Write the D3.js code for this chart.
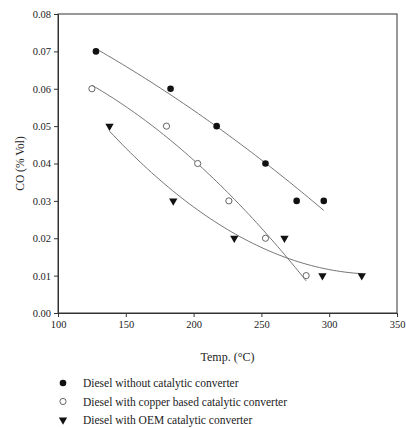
<!DOCTYPE html>
<html>
<head>
<meta charset="utf-8">
<script src="https://cdn.jsdelivr.net/npm/d3@7"></script>
<style>
  body { margin: 0; background: #fff; }
  text { font-family: "Liberation Serif", "Times New Roman", serif; fill: #222; }
</style>
</head>
<body>
<div id="chart"></div>
<script>
// data
const temp_none = [128, 183, 217, 253, 276, 296];
const co_none = [0.07, 0.06, 0.05, 0.04, 0.03, 0.03];

const temp_copper = [125, 180, 203, 226, 253, 283];
const co_copper = [0.06, 0.05, 0.04, 0.03, 0.02, 0.01];

const temp_oem = [138, 185, 230, 267, 295, 324];
const co_oem = [0.05, 0.03, 0.02, 0.02, 0.01, 0.01];

const x_ticks = [100, 150, 200, 250, 300, 350];
const y_ticks = [0, 0.01, 0.02, 0.03, 0.04, 0.05, 0.06, 0.07, 0.08];

const series_names = [
  "Diesel without catalytic converter"
  , "Diesel with copper based catalytic converter"
  , "Diesel with OEM catalytic converter"
];

const width = 406;
const height = 428;
const margin = { left: 58, top: 14, right: 9, bottom: 115 };

const svg = d3.select("#chart")
  .append("svg")
  .attr("width", width)
  .attr("height", height);

const x = d3.scaleLinear().domain([100, 350]).range([margin.left, width - margin.right]);
const y = d3.scaleLinear().domain([0, 0.08]).range([height - margin.bottom, margin.top]);

// quadratic least squares, like the regression lines in the figure
const quad_fit = (xs, ys) => {
  const n = xs.length;
  let s = [0, 0, 0, 0, 0], t = [0, 0, 0];
  for (let i = 0; i < n; ++i) {
    for (let k = 0; k < 5; ++k) s[k] += Math.pow(xs[i], k);
    for (let k = 0; k < 3; ++k) t[k] += ys[i] * Math.pow(xs[i], k);
  }
  const m = [[s[0], s[1], s[2], t[0]], [s[1], s[2], s[3], t[1]], [s[2], s[3], s[4], t[2]]];
  for (let c = 0; c < 3; ++c) {
    for (let r = c + 1; r < 3; ++r) {
      const f = m[r][c] / m[c][c];
      for (let k = c; k < 4; ++k) m[r][k] -= f * m[c][k];
    }
  }
  const b = [0, 0, 0];
  for (let r = 2; r >= 0; --r) {
    let v = m[r][3];
    for (let k = r + 1; k < 3; ++k) v -= m[r][k] * b[k];
    b[r] = v / m[r][r];
  }
  return (v) => b[0] + b[1] * v + b[2] * v * v;
}

const series = [
  { xs: temp_none, ys: co_none, kind: "filled" }
  , { xs: temp_copper, ys: co_copper, kind: "open" }
  , { xs: temp_oem, ys: co_oem, kind: "tri" }
];

// frame
svg.append("rect")
  .attr("x", x(100))
  .attr("y", y(0.08))
  .attr("width", x(350) - x(100))
  .attr("height", y(0) - y(0.08))
  .attr("fill", "none")
  .attr("stroke", "#333")
  .attr("stroke-width", 1);

// axes
const xaxis = svg.append("g")
  .attr("transform", `translate(0,${y(0)})`)
  .call(d3.axisBottom(x).tickValues(x_ticks).tickSize(4).tickPadding(4).tickFormat(d3.format("d")));

const yaxis = svg.append("g")
  .attr("transform", `translate(${x(100)},0)`)
  .call(d3.axisLeft(y).tickValues(y_ticks).tickSize(4).tickPadding(3).tickFormat(d3.format(".2f")));

[xaxis, yaxis].forEach((a) => {
  a.select(".domain").attr("stroke", "#333");
  a.selectAll(".tick line").attr("stroke", "#333");
  a.selectAll(".tick text")
    .attr("font-size", 10.5)
    .attr("font-family", "Liberation Serif, serif")
    .attr("fill", "#222");
});

// titles
svg.append("text")
  .attr("x", (x(100) + x(350)) / 2)
  .attr("y", 361)
  .attr("text-anchor", "middle")
  .attr("font-size", 12)
  .text("Temp. (°C)");

svg.append("text")
  .attr("transform", `translate(24,${(y(0) + y(0.08)) / 2}) rotate(-90)`)
  .attr("text-anchor", "middle")
  .attr("font-size", 11.5)
  .text("CO (% Vol)");

// fitted curves
series.forEach((s) => {
  const f = quad_fit(s.xs, s.ys);
  const lo = d3.min(s.xs), hi = d3.max(s.xs);
  const pts = d3.range(0, 61).map((i) => lo + (hi - lo) * i / 60);
  svg.append("path")
    .datum(pts)
    .attr("fill", "none")
    .attr("stroke", "#666")
    .attr("stroke-width", 0.9)
    .attr("d", d3.line().x((d) => x(d)).y((d) => y(f(d))));
});

const tri = d3.symbol().type(d3.symbolTriangle).size(30);

const draw_marker = (g, kind, cx, cy) => {
  if (kind === "filled") {
    g.append("circle").attr("cx", cx).attr("cy", cy).attr("r", 3.3).attr("fill", "#111");
  } else if (kind === "open") {
    g.append("circle").attr("cx", cx).attr("cy", cy).attr("r", 3.1)
      .attr("fill", "#fff").attr("stroke", "#555").attr("stroke-width", 0.9);
  } else {
    g.append("path").attr("d", tri())
      .attr("transform", `translate(${cx},${cy}) rotate(180)`)
      .attr("fill", "#111");
  }
}

// points
series.forEach((s) => {
  const g = svg.append("g");
  s.xs.forEach((t, i) => draw_marker(g, s.kind, x(t), y(s.ys[i])));
});

// legend
const legend = svg.append("g");
series_names.forEach((name, i) => {
  const ly = 383 + i * 18.5;
  draw_marker(legend, series[i].kind, 63, ly);
  legend.append("text")
    .attr("x", 83)
    .attr("y", ly + 4)
    .attr("font-size", 11.5)
    .text(name);
});
</script>
</body>
</html>
